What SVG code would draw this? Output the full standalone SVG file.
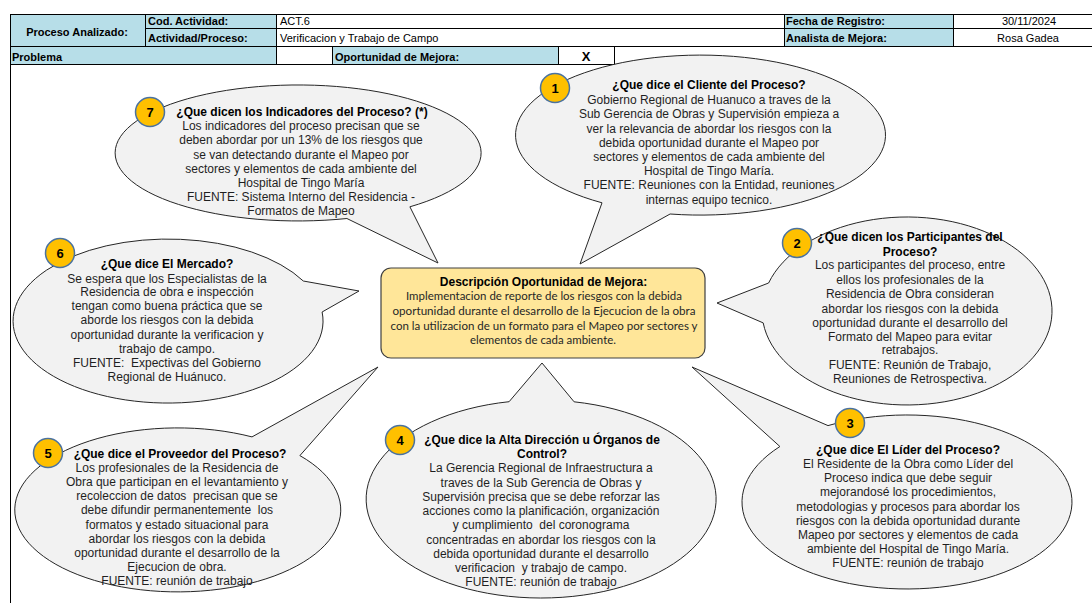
<svg xmlns="http://www.w3.org/2000/svg" width="1092" height="603" viewBox="0 0 1092 603">
<style>
.hdr{fill:#B7DEE8;stroke:#000;stroke-width:1}
.cell{fill:#fff;stroke:#000;stroke-width:1}
.lbl{font-family:"Liberation Sans",Arial,sans-serif;font-size:11px;font-weight:bold;fill:#000}
.val{font-family:"Liberation Sans",Arial,sans-serif;font-size:11px;fill:#000}
.bubble{fill:#F2F2F2;stroke:#262626;stroke-width:1}
.t{font-family:"Liberation Sans",Arial,sans-serif;font-size:12px;fill:#1f1f1f;text-anchor:middle}
.tb{font-weight:bold;fill:#000}
.badge{fill:#FFC000;stroke:#4A72A0;stroke-width:1.5}
.num{font-family:"Liberation Sans",Arial,sans-serif;font-size:13px;font-weight:bold;fill:#000;text-anchor:middle}
.box{fill:#FFE699;stroke:#404040;stroke-width:1.2}
.cb{font-family:Lato,"Open Sans",sans-serif;font-size:11px;fill:#262626;text-anchor:middle}
.pre{white-space:pre}
</style>
<rect width="1092" height="603" fill="#fff"/>

<g id="header">
  <rect class="hdr" x="10.5" y="14.5" width="135" height="32"/>
  <rect class="hdr" x="145.5" y="14.5" width="131" height="14"/>
  <rect class="hdr" x="145.5" y="28.5" width="131" height="18"/>
  <rect class="cell" x="276.5" y="14.5" width="508" height="14"/>
  <rect class="cell" x="276.5" y="28.5" width="508" height="18"/>
  <rect class="hdr" x="784.5" y="14.5" width="169" height="14"/>
  <rect class="hdr" x="784.5" y="28.5" width="169" height="18"/>
  <rect class="cell" x="953.5" y="14.5" width="150" height="14"/>
  <rect class="cell" x="953.5" y="28.5" width="150" height="18"/>
  <rect class="hdr" x="10.5" y="46.5" width="266" height="18"/>
  <rect class="cell" x="276.5" y="46.5" width="56" height="18"/>
  <rect class="hdr" x="332.5" y="46.5" width="226" height="18"/>
  <rect class="cell" x="558.5" y="46.5" width="56" height="18"/>
  <line x1="10.5" y1="64.5" x2="10.5" y2="603" stroke="#000" stroke-width="1"/>
  <text class="lbl" x="77" y="35.5" text-anchor="middle">Proceso Analizado:</text>
  <text class="lbl" x="148" y="25">Cod. Actividad:</text>
  <text class="lbl" x="148" y="42">Actividad/Proceso:</text>
  <text class="val" x="280" y="25">ACT.6</text>
  <text class="val" x="280" y="42">Verificacion y Trabajo de Campo</text>
  <text class="lbl" x="786" y="25">Fecha de Registro:</text>
  <text class="lbl" x="786" y="42">Analista de Mejora:</text>
  <text class="val" x="1029" y="25" text-anchor="middle">30/11/2024</text>
  <text class="val" x="1028" y="42" text-anchor="middle">Rosa Gadea</text>
  <text class="lbl" x="12" y="60.5">Problema</text>
  <text class="lbl" x="335" y="60.5">Oportunidad de Mejora:</text>
  <text class="lbl" x="586" y="61" text-anchor="middle" style="font-size:13px">X</text>
</g>

<g id="connectors"></g>

<g id="n7">
  <path class="bubble" d="M 409.9 206.8 L 438 263 L 346.9 218.5 A 183 68 0 1 1 409.9 206.8 Z"/>
  <circle class="badge" cx="150" cy="112" r="14.5"/>
  <text class="num" x="150" y="116.5">7</text>
  <text class="t tb" x="302" y="116">¿Que dicen los Indicadores del Proceso? (*)</text>
  <text class="t" x="301" y="130.3">Los indicadores del proceso precisan que se</text>
  <text class="t" x="301" y="144.3">deben abordar por un 13% de los riesgos que</text>
  <text class="t" x="301" y="158.6">se van detectando durante el Mapeo por</text>
  <text class="t" x="301" y="173">sectores y elementos de cada ambiente del</text>
  <text class="t" x="301" y="187.3">Hospital de Tingo María</text>
  <text class="t" x="301" y="201.3">FUENTE: Sistema Interno del Residencia -</text>
  <text class="t" x="301" y="215.3">Formatos de Mapeo</text>
</g>

<g id="n1">
  <path class="bubble" d="M 670.1 214 L 580 264 L 602 202.8 A 185 80 0 1 1 670.1 214 Z"/>
  <circle class="badge" cx="555" cy="88" r="14.5"/>
  <text class="num" x="555" y="92.5">1</text>
  <text class="t tb" x="709" y="89.3">¿Que dice el Cliente del Proceso?</text>
  <text class="t" x="709" y="104.3">Gobierno Regional de Huanuco a traves de la</text>
  <text class="t" x="709" y="118.3">Sub Gerencia de Obras y Supervisión empieza a</text>
  <text class="t" x="709" y="132.6">ver la relevancia de abordar los riesgos con la</text>
  <text class="t" x="709" y="147">debida oportunidad durante el Mapeo por</text>
  <text class="t" x="709" y="161">sectores y elementos de cada ambiente del</text>
  <text class="t" x="709" y="175.3">Hospital de Tingo María.</text>
  <text class="t" x="709" y="189.3">FUENTE: Reuniones con la Entidad, reuniones</text>
  <text class="t" x="709" y="203.6">internas equipo tecnico.</text>
</g>

<g id="n6">
  <path class="bubble" d="M 303.3 281 L 359 291 L 322.1 312 A 155 82 0 1 1 303.3 281 Z"/>
  <circle class="badge" cx="60" cy="253" r="14.5"/>
  <text class="num" x="60" y="257.5">6</text>
  <text class="t tb" x="167" y="267.6">¿Que dice El Mercado?</text>
  <text class="t" x="167" y="282.6">Se espera que los Especialistas de la</text>
  <text class="t" x="167" y="296">Residencia de obra e inspección</text>
  <text class="t" x="167" y="310.3">tengan como buena práctica que se</text>
  <text class="t" x="167" y="324.3">aborde los riesgos con la debida</text>
  <text class="t" x="167" y="338.6">oportunidad durante la verificacion y</text>
  <text class="t" x="167" y="352.6">trabajo de campo.</text>
  <text class="t pre" x="167" y="367">FUENTE:  Expectivas del Gobierno</text>
  <text class="t" x="167" y="381">Regional de Huánuco.</text>
</g>

<g id="n2">
  <path class="bubble" d="M 763.2 322.9 L 717 303 L 768.6 283 A 145 94 0 1 1 763.2 322.9 Z"/>
  <circle class="badge" cx="797" cy="243" r="14.5"/>
  <text class="num" x="797" y="247.5">2</text>
  <text class="t tb" x="910" y="241">¿Que dicen los Participantes del</text>
  <text class="t tb" x="910" y="256">Proceso?</text>
  <text class="t" x="910" y="269.3">Los participantes del proceso, entre</text>
  <text class="t" x="910" y="283.6">ellos los profesionales de la</text>
  <text class="t" x="910" y="298.3">Residencia de Obra consideran</text>
  <text class="t" x="910" y="312.6">abordar los riesgos con la debida</text>
  <text class="t" x="910" y="326.6">oportunidad durante el desarrollo del</text>
  <text class="t" x="910" y="341">Formato del Mapeo para evitar</text>
  <text class="t" x="910" y="354.3">retrabajos.</text>
  <text class="t" x="910" y="368.6">FUENTE: Reunión de Trabajo,</text>
  <text class="t" x="910" y="383.3">Reuniones de Retrospectiva.</text>
</g>

<g id="n3">
  <path class="bubble" d="M 779.9 446.5 L 692 367 L 828 425.6 A 165 87 0 1 1 779.9 446.5 Z"/>
  <circle class="badge" cx="850" cy="423" r="14.5"/>
  <text class="num" x="850" y="427.5">3</text>
  <text class="t tb" x="908" y="453.6">¿Que dice El Líder del Proceso?</text>
  <text class="t" x="908" y="468.3">El Residente de la Obra como Líder del</text>
  <text class="t" x="908" y="481.6">Proceso indica que debe seguir</text>
  <text class="t" x="908" y="496">mejorandosé los procedimientos,</text>
  <text class="t" x="908" y="511">metodologias y procesos para abordar los</text>
  <text class="t" x="908" y="525">riesgos con la debida oportunidad durante</text>
  <text class="t" x="908" y="539.3">Mapeo por sectores y elementos de cada</text>
  <text class="t" x="908" y="553.3">ambiente del Hospital de Tingo María.</text>
  <text class="t" x="908" y="567">FUENTE: reunión de trabajo</text>
</g>

<g id="n4">
  <path class="bubble" d="M 509.1 401.7 L 542 363 L 574.1 401.8 A 175 99 0 1 1 509.1 401.7 Z"/>
  <circle class="badge" cx="400" cy="440" r="14.5"/>
  <text class="num" x="400" y="444.5">4</text>
  <text class="t tb" x="542" y="444.3">¿Que dice la Alta Dirección u Órganos de</text>
  <text class="t tb" x="542" y="458.3">Control?</text>
  <text class="t" x="541" y="472">La Gerencia Regional de Infraestructura a</text>
  <text class="t" x="541" y="486.6">traves de la Sub Gerencia de Obras y</text>
  <text class="t" x="541" y="501">Supervisión precisa que se debe reforzar las</text>
  <text class="t" x="541" y="515.3">acciones como la planificación, organización</text>
  <text class="t pre" x="541" y="529.3">y cumplimiento  del coronograma</text>
  <text class="t" x="541" y="543.6">concentradas en abordar los riesgos con la</text>
  <text class="t" x="541" y="557.6">debida oportunidad durante el desarrollo</text>
  <text class="t pre" x="541" y="572">verificacion  y trabajo de campo.</text>
  <text class="t" x="541" y="586">FUENTE: reunión de trabajo</text>
</g>

<g id="n5">
  <path class="bubble" d="M 252 436.9 L 378 367 L 299.9 455.6 A 163 82 0 1 1 252 436.9 Z"/>
  <circle class="badge" cx="48" cy="453" r="14.5"/>
  <text class="num" x="48" y="457.5">5</text>
  <text class="t tb" x="180" y="457.6">¿Que dice el Proveedor del Proceso?</text>
  <text class="t" x="177" y="471.6">Los profesionales de la Residencia de</text>
  <text class="t" x="177" y="486">Obra que participan en el levantamiento y</text>
  <text class="t pre" x="177" y="500">recoleccion de datos  precisan que se</text>
  <text class="t pre" x="177" y="514.3">debe difundir permanentemente  los</text>
  <text class="t" x="177" y="528.6">formatos y estado situacional para</text>
  <text class="t" x="177" y="542.6">abordar los riesgos con la debida</text>
  <text class="t" x="177" y="557">oportunidad durante el desarrollo de la</text>
  <text class="t" x="177" y="571">Ejecucion de obra.</text>
  <text class="t" x="177" y="585.3">FUENTE: reunión de trabajo</text>
</g>

<g id="center">
  <rect class="box" x="381" y="268" width="324" height="90" rx="10" ry="10"/>
  <text class="t tb" x="543.5" y="286.3">Descripción Oportunidad de Mejora:</text>
  <text class="cb" x="544" y="300.3" textLength="276" lengthAdjust="spacingAndGlyphs">Implementacion de reporte de los riesgos con la debida</text>
  <text class="cb" x="544" y="315" textLength="303" lengthAdjust="spacingAndGlyphs">oportunidad durante el desarrollo de la Ejecucion de la obra</text>
  <text class="cb" x="544" y="329.5" textLength="307" lengthAdjust="spacingAndGlyphs">con la utilizacion de un formato para el Mapeo por sectores y</text>
  <text class="cb" x="543" y="344" textLength="146" lengthAdjust="spacingAndGlyphs">elementos de cada ambiente.</text>
</g>
</svg>
